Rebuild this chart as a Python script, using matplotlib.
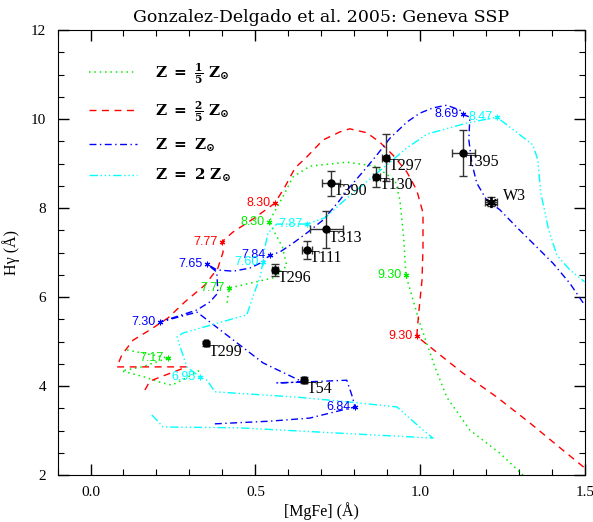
import matplotlib
matplotlib.use("Agg")
import matplotlib.pyplot as plt
import numpy as np

# SSP tracks (NaN = gap in the track)
green_x = [0.111, 0.235, 0.156, 0.095, 0.165, 0.217, 0.247, 0.277, 0.338, np.nan,
           0.414, 0.420, 0.553, 0.595, 0.582, 0.541, 0.583, 0.614, 0.665, 0.777,
           0.862, 0.923, 0.938, 0.950, 0.956, 0.998, 1.044, 1.080, 1.150, 1.241, 1.311]
green_y = [4.81, 4.63, 4.43, 4.34, 4.20, 4.07, 4.02, 4.13, 4.38, np.nan,
           5.87, 6.20, 6.43, 6.70, 7.12, 7.69, 8.25, 8.70, 8.94, 9.03,
           8.94, 8.63, 8.18, 7.28, 6.49, 5.42, 4.43, 3.75, 3.01, 2.49, 2.00]

red_x = [0.165, 0.180, 0.211, 0.292, 0.080, 0.095, 0.129, 0.180, 0.235, 0.286,
         0.347, 0.386, 0.402, 0.398, 0.432, 0.498, 0.559, 0.589, 0.620, 0.656,
         0.705, 0.756, 0.786, 0.838, 0.877, 0.917, 0.959, 0.989, 1.008, 1.008,
         1.005, 0.995, 0.989, 1.029, 1.129, 1.232, 1.332, 1.432, 1.498]
red_y = [3.91, 4.11, 4.20, 4.43, 4.43, 4.70, 5.03, 5.26, 5.53, 5.89,
         6.27, 6.65, 7.01, 7.24, 7.46, 7.78, 8.11, 8.47, 8.90, 9.15,
         9.53, 9.71, 9.78, 9.69, 9.48, 9.19, 8.81, 8.40, 7.89, 7.12,
         6.38, 5.64, 5.12, 4.88, 4.29, 3.75, 3.17, 2.56, 2.16]

blue_x = [0.377, 0.544, 0.665, 0.741, 0.802, 0.792, 0.777, 0.644, 0.565, 0.644,
          0.523, 0.402, 0.323, 0.211, 0.323, 0.362, 0.386, 0.383, 0.353, 0.383,
          0.432, 0.483, 0.514, 0.544, 0.574, 0.614, 0.656, 0.705, 0.756, 0.786,
          0.838, 0.868, 0.908, 0.959, 0.998, 1.038, 1.080, 1.120, 1.129, 1.150,
          1.147, 1.156, 1.171, 1.201, 1.241, 1.292, 1.341, 1.402, 1.453, 1.498]
blue_y = [3.15, 3.21, 3.28, 3.42, 3.53, 3.80, 4.13, 4.09, 4.07, 4.09,
          4.52, 5.21, 5.66, 5.44, 5.71, 5.89, 6.09, 6.56, 6.74, 6.61,
          6.58, 6.65, 6.76, 6.94, 7.01, 7.21, 7.44, 7.73, 8.18, 8.47,
          8.92, 9.19, 9.57, 9.93, 10.13, 10.25, 10.31, 10.20, 10.11, 10.04,
          9.53, 9.01, 8.56, 8.18, 7.96, 7.57, 7.21, 6.76, 6.31, 5.82]

cyan_x = [0.186, 0.220, 0.453, 0.756, 1.038, 1.008, 0.929, 0.786, 0.626, 0.377,
          0.353, 0.332, 0.292, 0.262, 0.280, 0.474, 0.492, 0.514, 0.523, 0.529,
          0.538, 0.565, 0.656, 0.711, 0.771, 0.832, 0.908, 0.959, 1.020, 1.141,
          1.232, 1.271, 1.341, 1.356, 1.365, 1.389, 1.414, 1.453, 1.498]
cyan_y = [3.35, 3.08, 3.06, 2.94, 2.83, 3.01, 3.53, 3.64, 3.75, 3.87,
          4.13, 4.20, 4.43, 5.10, 5.19, 5.60, 6.00, 6.45, 6.79, 7.12,
          7.44, 7.64, 7.64, 7.78, 8.18, 8.56, 9.03, 9.35, 9.66, 9.91,
          10.04, 9.82, 9.42, 9.08, 8.34, 7.51, 6.94, 6.61, 6.34]

# log(age) marks on the tracks
green_ages = ["7.17", "7.77", "8.30", "9.30"]
green_ax = [0.235, 0.420, 0.541, 0.956]
green_ay = [4.63, 6.20, 7.69, 6.49]
red_ages = ["7.77", "8.30", "9.30"]
red_ax = [0.398, 0.559, 0.989]
red_ay = [7.24, 8.11, 5.12]
blue_ages = ["6.84", "7.30", "7.65", "7.84", "8.69"]
blue_ax = [0.802, 0.211, 0.353, 0.544, 1.129]
blue_ay = [3.53, 5.44, 6.74, 6.94, 10.11]
cyan_ages = ["6.95", "7.60", "7.87", "8.47"]
cyan_ax = [0.332, 0.523, 0.656, 1.232]
cyan_ay = [4.20, 6.79, 7.64, 10.04]

# observed clusters
names = ["T390", "T297", "T130", "T313", "T111", "T296", "T299", "T54", "T395"]
mgfe = [0.729, 0.895, 0.867, 0.714, 0.655, 0.559, 0.350, 0.647, 1.130]
mgfe_err = [0.026, 0.010, 0.010, 0.050, 0.015, 0.010, 0.005, 0.005, 0.035]
hg = [8.56, 9.13, 8.70, 7.52, 7.06, 6.61, 4.96, 4.13, 9.23]
hg_err = [0.28, 0.53, 0.22, 0.42, 0.21, 0.14, 0.05, 0.07, 0.52]
w3_x, w3_xerr = 1.214, 0.018
w3_y, w3_yerr = 8.14, 0.10


def main():
    plt.rcParams['mathtext.fontset'] = 'dejavuserif'
    fig = plt.figure(figsize=(5.93, 5.22), dpi=100)
    ax = fig.add_axes([0.097, 0.090, 0.890, 0.8525])

    l1, = ax.plot(green_x, green_y, color='#00ee00', ls=(0, (1, 2.5)), lw=1.1)
    l2, = ax.plot(red_x, red_y, color='red', ls=(0, (5, 4)), lw=1.0)
    l3, = ax.plot(blue_x, blue_y, color='blue', ls=(0, (5, 2.5, 1, 2.5)), lw=1.0)
    l4, = ax.plot(cyan_x, cyan_y, color='cyan', ls=(0, (6, 2, 1, 2, 1, 2, 1, 2)), lw=1.0)

    for ages, xs, ys, c in [(green_ages, green_ax, green_ay, '#00ee00'),
                            (red_ages, red_ax, red_ay, 'red'),
                            (blue_ages, blue_ax, blue_ay, 'blue'),
                            (cyan_ages, cyan_ax, cyan_ay, 'cyan')]:
        ax.plot(xs, ys, ls='none', marker=(6, 2, 0), ms=4, mew=0.8, color=c)
        for lab, x, y in zip(ages, xs, ys):
            ax.annotate(lab, (x, y), xytext=(-3, 0), textcoords='offset points',
                        ha='right', va='center', color=c, fontsize=9,
                        family='Liberation Sans')

    ax.errorbar(mgfe, hg, xerr=mgfe_err, yerr=hg_err, fmt='o', color='k',
                ecolor='0.2', ms=5, elinewidth=1, capsize=3, capthick=1)
    for n, x, y in zip(names, mgfe, hg):
        ax.annotate(n, (x, y), xytext=(2, -6), textcoords='offset points',
                    ha='left', va='center', fontsize=11.5, family='Liberation Serif')
    ax.errorbar([w3_x], [w3_y], xerr=[w3_xerr], yerr=[w3_yerr], fmt='none',
                ecolor='0.2', elinewidth=1, capsize=3)
    ax.plot([w3_x], [w3_y], ls='none', marker=(6, 2, 0), ms=8, mew=1.3, color='k')
    ax.annotate("W3", (w3_x, w3_y), xytext=(9, 4), textcoords='offset points',
                ha='left', va='center', fontsize=11.5, family='Liberation Serif')

    labels = [r'$\mathbf{Z\ =\ \frac{1}{5}\ Z_{\odot}}$',
              r'$\mathbf{Z\ =\ \frac{2}{5}\ Z_{\odot}}$',
              r'$\mathbf{Z\ =\ Z_{\odot}}$',
              r'$\mathbf{Z\ =\ 2\ Z_{\odot}}$']
    ax.legend([l1, l2, l3, l4], labels, loc='upper left',
              bbox_to_anchor=(0.06, 0.93), frameon=False, fontsize=11,
              handlelength=3.1, handletextpad=1.2, labelspacing=0.85,
              borderpad=0, borderaxespad=0)

    ax.set_xlim(-0.1, 1.5)
    ax.set_ylim(2, 12)
    ax.set_xticks([0.0, 0.5, 1.0, 1.5])
    ax.set_xticks(np.arange(-0.1, 1.51, 0.1), minor=True)
    ax.set_yticks([2, 4, 6, 8, 10, 12])
    ax.set_yticks(np.arange(2, 12.01, 0.5), minor=True)
    ax.tick_params(which='both', direction='in', top=True, right=True)
    ax.tick_params(which='major', length=8, width=1, pad=8)
    ax.tick_params(which='minor', length=4, width=0.8)
    for t in ax.get_xticklabels() + ax.get_yticklabels():
        t.set_family('Liberation Serif')
        t.set_fontsize(11)
    ax.xaxis.set_major_formatter(matplotlib.ticker.FormatStrFormatter('%.1f'))

    ax.set_xlabel('[MgFe] (Å)', family='Liberation Serif', fontsize=11.5, labelpad=2)
    ax.set_ylabel('Hγ (Å)', family='Liberation Serif', fontsize=11.5, labelpad=8)
    ax.set_title('Gonzalez-Delgado et al. 2005: Geneva SSP',
                 family='DejaVu Serif', fontsize=12.5, pad=6)

    fig.savefig('out.png', dpi=100)


if __name__ == "__main__":
    main()
